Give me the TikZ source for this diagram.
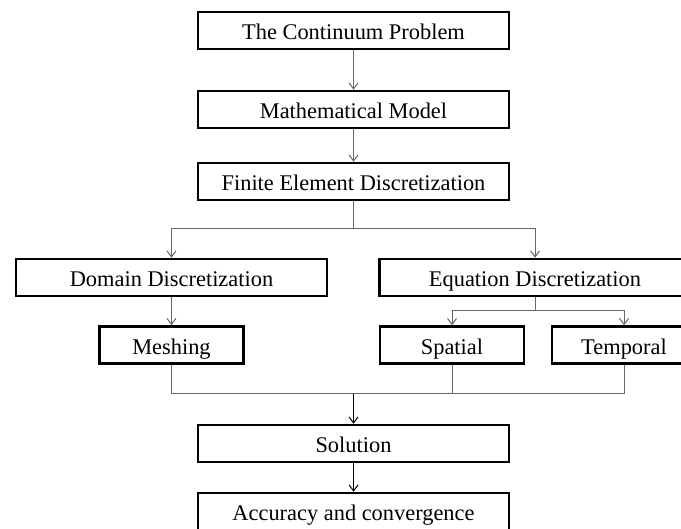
\documentclass[tikz,border=0pt]{standalone}
\usepackage{fontspec}
\setmainfont{Liberation Serif}
\usetikzlibrary{arrows.meta}
\usetikzlibrary{positioning}

\begin{document}
\begin{tikzpicture}[x=1pt,y=-1pt,>={Straight Barb[length=6pt,width=9pt]},
		main node/.style={rectangle,draw,line width=2.5pt,minimum width=311pt,minimum height=37pt,inner sep=0pt,text height=19pt,text depth=0pt,font=\fontsize{22.4}{26}\selectfont},
		sub node/.style={main node,minimum width=144pt},
		link/.style={line width=1pt,draw=black!60}]

	\useasboundingbox (0,0) rectangle (681,529);

	\node[main node] (CP) at (353.5,30.5) {The Continuum Problem};
	\node[main node] (MM) at (353.5,109.5) {Mathematical Model};
	\node[main node] (FED) at (353.5,181.5) {Finite Element Discretization};
	\node[main node] (DD) at (171.5,277.5) {Domain Discretization};
	\node[main node] (ED) at (535,277.5) {Equation Discretization};
	\node[sub node] (MS) at (171.5,345) {Meshing};
	\node[sub node] (SP) at (452,345) {Spatial};
	\node[sub node] (TP) at (624,345) {Temporal};
	\node[main node] (SOL) at (353.5,443.5) {Solution};
	\node[main node] (AC) at (353.5,511.5) {Accuracy and convergence};

	\coordinate (split1) at (353.5,229);
	\coordinate (split2) at (535,311);
	\coordinate (join) at (353.5,394);

	\path[->,link]
	(CP) edge (MM)
	(MM) edge (FED)
	(DD) edge (MS);

	\draw[link] (FED) -- (split1);
	\draw[->,link] (split1) -| (DD);
	\draw[->,link] (split1) -| (ED);
	\draw[link] (ED) -- (split2);
	\draw[->,link] (split2) -| (SP);
	\draw[->,link] (split2) -| (TP);
	\draw[link] (MS) |- (join);
	\draw[link] (SP) |- (join);
	\draw[link] (TP) |- (join);

	\draw[->,line width=1pt] (join) -- (SOL);
	\draw[->,line width=1pt] (SOL) -- (AC);

\end{tikzpicture}
\end{document}
